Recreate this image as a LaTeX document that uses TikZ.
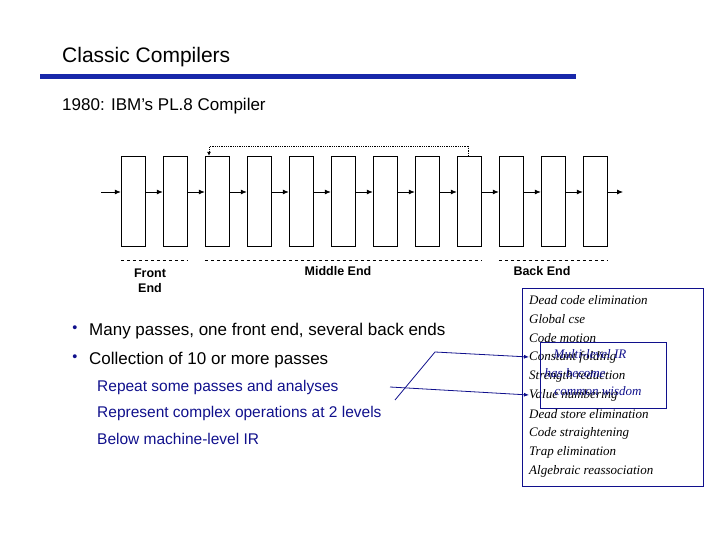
\documentclass[tikz,border=0pt]{standalone}
\usepackage{fontspec}
\setmainfont{Liberation Sans}
\newfontfamily\optfont{Liberation Serif}
\usepackage{tikz}
\usetikzlibrary{arrows.meta, positioning}
\definecolor{navy}{RGB}{16,16,140}
\definecolor{rule}{RGB}{24,40,170}

\begin{document}
\begin{tikzpicture}[x=1pt, y=-1pt,
    pass/.style={draw, minimum width=24pt, minimum height=90pt, inner sep=0pt},
    flow/.style={-{Latex[length=6pt,width=5pt]}, thick},
    lbl/.style={font=\fontsize{12.5}{15}\selectfont\bfseries, align=center},
    opt/.style={font=\fontsize{13}{14}\selectfont\optfont\itshape, anchor=west, inner sep=0pt},
    sub/.style={font=\fontsize{15.5}{18}\selectfont, text=navy, anchor=west, inner sep=0pt},
    item/.style={font=\fontsize{17}{20}\selectfont, anchor=west, inner sep=0pt}]
    \useasboundingbox (0,0) rectangle (720,540);

    \node[font=\fontsize{21}{24}\selectfont, anchor=west, inner sep=0pt] (title) at (62,57) {Classic Compilers};
    \draw[rule, line width=5pt] (40,77) -- (576,77);
    \node[font=\fontsize{17}{20}\selectfont, anchor=west, inner sep=0pt] (sub) at (62,106) {1980: IBM’s PL.8 Compiler};

    % the passes
    \coordinate (in) at (101,192);
    \foreach \i in {1,...,12}
        \node[pass] (p\i) at ({133+42*(\i-1)},201) {};
    \draw[flow] (in) -- (p1.west |- in);
    \foreach \i [evaluate=\i as \j using int(\i+1)] in {1,...,11}
        \draw[flow] (p\i.east |- in) -- (p\j.west |- in);
    \coordinate (out) at (623,192);
    \draw[flow] (p12.east |- in) -- (out);

    % feedback
    \draw[densely dotted, thick, -{Latex[length=4pt,width=4pt]}] ([xshift=-1pt]p9.north) -- ++(0,-9) -| ([xshift=-8pt]p3.north);

    % groups
    \draw[dashed] (p1.west |- 0,260) -- (p2.east |- 0,260);
    \draw[dashed] (p3.west |- 0,260) -- (p9.east |- 0,260);
    \draw[dashed] (p10.west |- 0,260) -- (p12.east |- 0,260);
    \node[lbl] (front) at (150,281) {Front\\End};
    \node[lbl] (middle) at (338,271) {Middle End};
    \node[lbl] (back) at (542,271) {Back End};

    % bullets
    \node[item] (b1) at (89,331) {Many passes, one front end, several back ends};
    \node[item] (b2) at (89,360) {Collection of 10 or more passes};
    \node[font=\Large, navy] at (75,329) {\textbullet};
    \node[font=\Large, navy] at (75,358) {\textbullet};
    \node[sub] (s1) at (97,387) {Repeat some passes and analyses};
    \node[sub] (s2) at (97,413) {Represent complex operations at 2 levels};
    \node[sub] (s3) at (97,439) {Below machine-level IR};

    % optimizations
    \draw[navy] (522,288) rectangle (703,486);
    \foreach \t [count=\k] in {Dead code elimination, Global cse, Code motion, Constant folding,
        Strength reduction, Value numbering, Dead store elimination, Code straightening,
        Trap elimination, Algebraic reassociation}
        \node[opt] (o\k) at (529,{281+19*\k}) {\t};
    \node[draw=navy, minimum width=126pt, minimum height=66pt, inner sep=0pt] (ml) at (603,375) {};
    \node[opt, anchor=center, text=navy] (ml1) at (590,354) {Multi-level IR};
    \node[opt, anchor=center, text=navy] (ml2) at (575,373) {has become};
    \node[opt, anchor=center, text=navy] (ml3) at (598,391) {common wisdom};

    \coordinate (c1) at (395,400);
    \coordinate (c2) at (435,352);
    \coordinate (c3) at (390,387);
    \draw[navy, thick, -{Latex[length=5pt,width=4pt]}] (c1) -- (c2) -- (o4.west);
    \draw[navy, thick, -{Latex[length=5pt,width=4pt]}] (c3) -- (o6.west);
\end{tikzpicture}
\end{document}
